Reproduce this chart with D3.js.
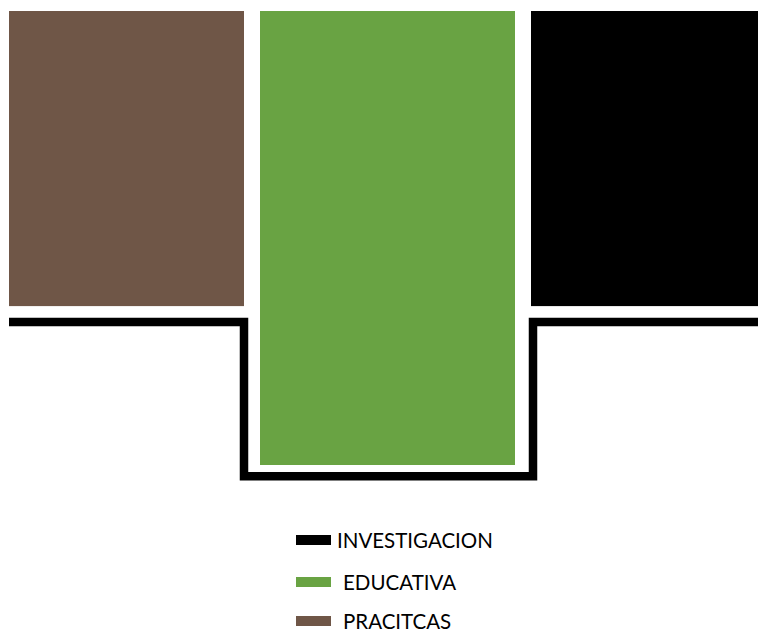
<html>
<head>
    <meta charset="utf-8">
    <title>Investigacion / Educativa / Pracitcas</title>
    <style>
        body {margin: 0; background: #fff;}
        svg {display: block;}
        .legend text {font-family: Lato, "Open Sans", sans-serif; font-size: 20.5px; fill: #000;}
    </style>
</head>
<body>
    <svg></svg>
    <script src="https://d3js.org/d3.v7.min.js"></script>
    <script type="text/javascript">
    // categories left to right
    const categories = ["PRACITCAS", "EDUCATIVA", "INVESTIGACION"];
    // bar depth (bars hang from the top)
    const barValues = [65, 100, 65];
    // stepped outline line (INVESTIGACION)
    const lineValues = [68.5, 102.5, 68.5];
    // legend order as shown
    const legendLabels = ["INVESTIGACION", "EDUCATIVA", "PRACITCAS"];

    const colors = {PRACITCAS: "#6f5647", EDUCATIVA: "#69a343", INVESTIGACION: "#000000"};

    let width = 758;
    let height = 632;

    let svg = d3.select("svg")
        .attr("width", width)
        .attr("height", height);

    let x = d3.scaleBand()
        .domain(categories)
        .range([-1, 776])
        .paddingInner(6 / 261)
        .paddingOuter(0);

    let y = d3.scaleLinear()
        .domain([0, 100])
        .range([11, 465]);

    // the middle bar is drawn wider than the side ones
    const trim = d => d === "EDUCATIVA" ? 0 : 10;

    svg.append("g")
        .attr("class", "bars")
        .selectAll("rect")
        .data(categories)
        .enter()
        .append("rect")
        .attr("x", d => x(d) + trim(d))
        .attr("width", d => x.bandwidth() - 2 * trim(d))
        .attr("y", y(0))
        .attr("height", (d, i) => y(barValues[i]) - y(0))
        .style("fill", d => colors[d]);

    // step line wrapping around the deeper bar
    const bw = x.bandwidth();
    const pts = [[x(categories[0]) + trim(categories[0]), y(lineValues[0])]];
    for (let i = 0; i < categories.length - 1; i++) {
        let bx = lineValues[i + 1] > lineValues[i]
            ? x(categories[i + 1]) - 16
            : x(categories[i]) + bw + 18;
        pts.push([bx, y(lineValues[i])]);
        pts.push([bx, y(lineValues[i + 1])]);
    }
    pts.push([width, y(lineValues[lineValues.length - 1])]);

    svg.append("path")
        .attr("d", d3.line()(pts))
        .style("fill", "none")
        .style("stroke", "#000")
        .style("stroke-width", 8.5)
        .style("stroke-linejoin", "miter");

    // legend
    let legend = svg.append("g")
        .attr("class", "legend");

    let rows = [540, 582, 621];
    legendLabels.forEach((lab, i) => {
        legend.append("rect")
            .attr("x", 296)
            .attr("y", rows[i] - 5)
            .attr("width", 35)
            .attr("height", 10)
            .style("fill", colors[lab]);
        legend.append("text")
            .attr("x", i === 0 ? 337 : 343)
            .attr("y", rows[i] + 8)
            .text(lab);
    });
    </script>
</body>
</html>
